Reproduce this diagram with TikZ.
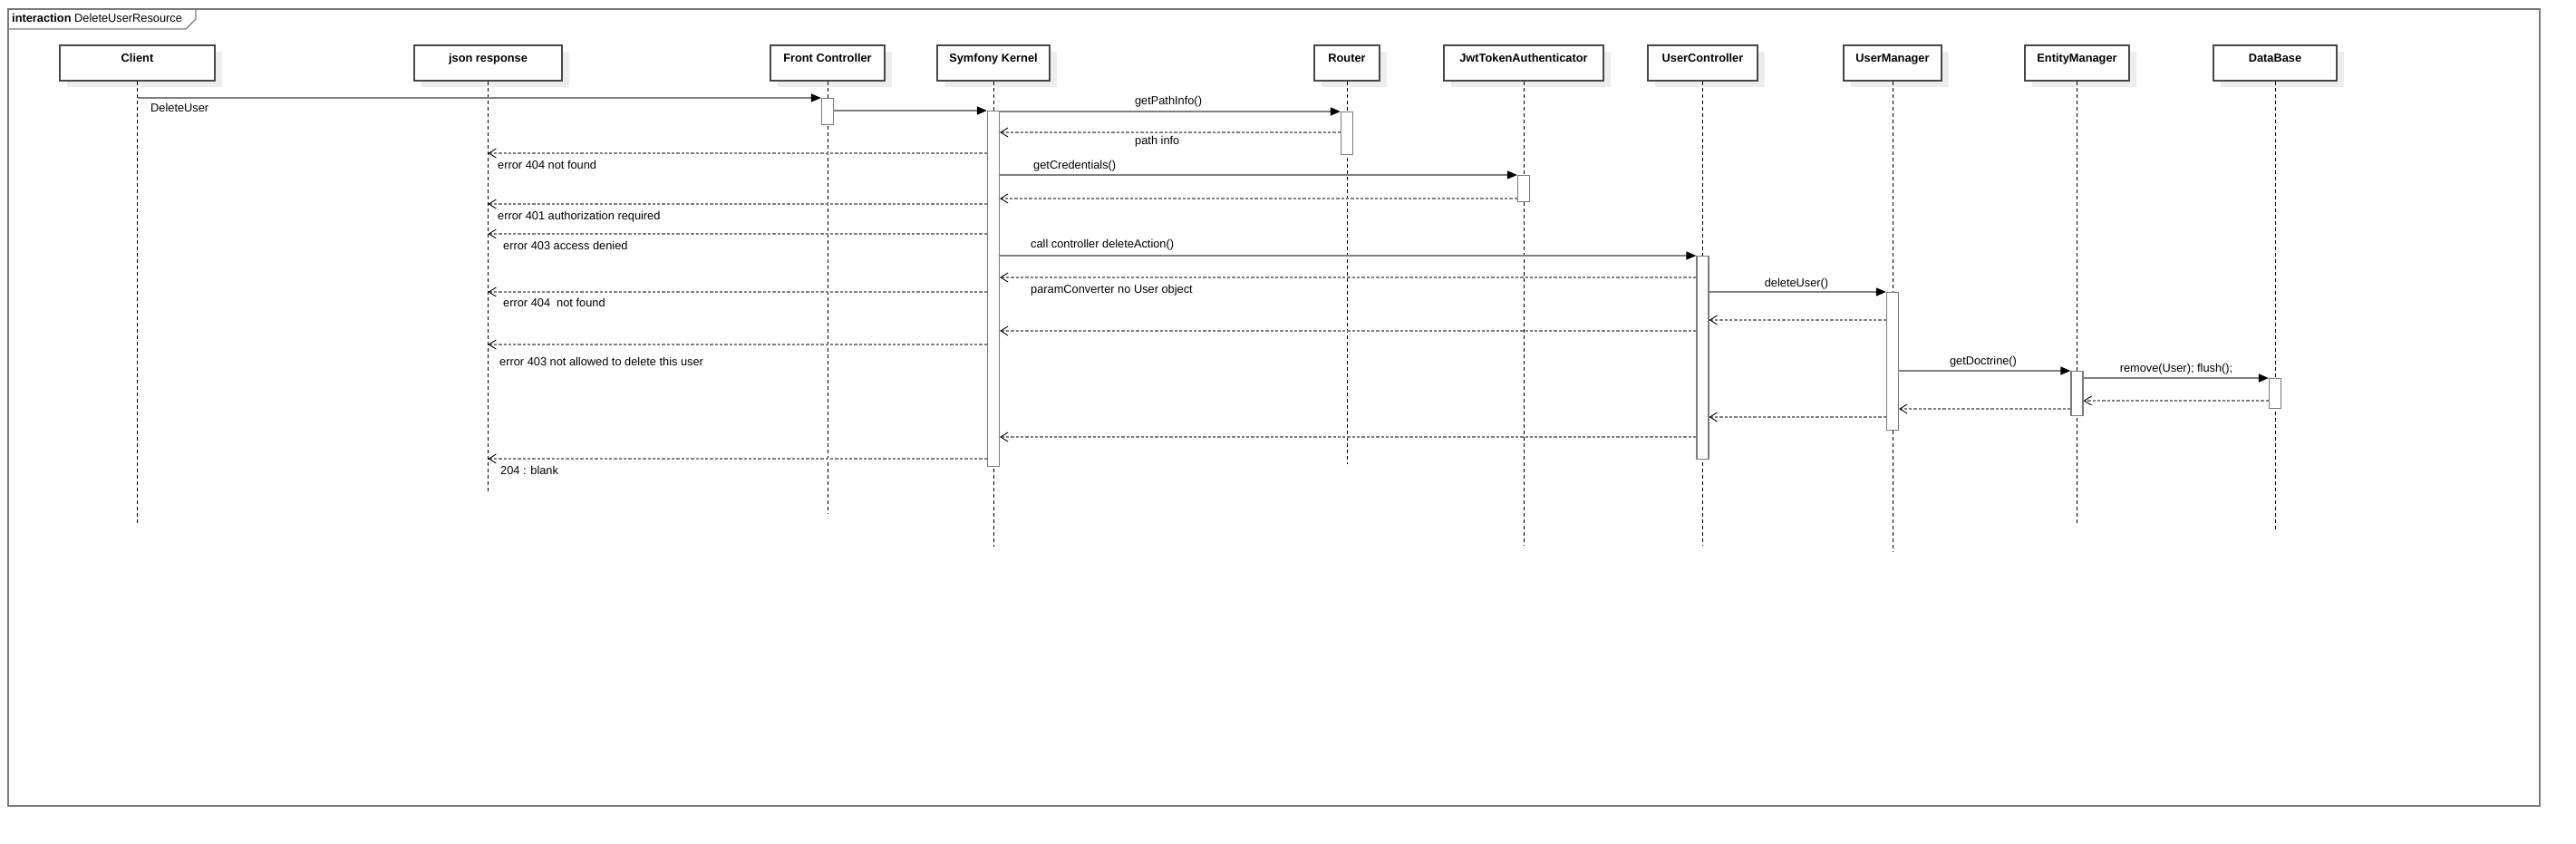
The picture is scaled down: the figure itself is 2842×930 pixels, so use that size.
\documentclass[tikz,border=0pt]{standalone}
\usepackage{fontspec}
\setmainfont{Liberation Sans}
\usetikzlibrary{arrows.meta,shadows}
\begin{document}
\begin{tikzpicture}[x=1pt,y=-1pt,
  font=\fontsize{12.8}{15}\selectfont,
  frame/.style={draw=black!52, line width=1.4pt},
  head/.style={draw=black!72, line width=1.2pt, fill=white, inner sep=0pt,
    text height=18pt, text depth=21pt, minimum height=39pt,
    font=\fontsize{12.8}{15}\selectfont\bfseries,
    general shadow={fill=black!7, shadow xshift=8pt, shadow yshift=-7pt}},
  life/.style={draw=black, line width=0.8pt, dash pattern=on 4pt off 3pt},
  bar/.style={draw=black!52, line width=1.3pt, fill=white, inner sep=0pt,
    minimum width=13pt, anchor=north},
  call/.style={draw=black!50, line width=1.6pt,
    -{Triangle[length=11pt,width=9pt,color=black,fill=black]}},
  ret/.style={draw=black!50, line width=1.4pt, dash pattern=on 3.3pt off 2pt,
    -{Straight Barb[length=8pt,width=10pt,color=black,line width=0.9pt]}},
  lbl/.style={inner sep=0pt, text height=9.2pt, text depth=2.7pt},
  lw/.style={lbl, anchor=west},
  lc/.style={lbl, anchor=center}]
\useasboundingbox (0,0) rectangle (2842,930);

% frame
\draw[frame] (9,10) rectangle (2802,889);
\draw[frame] (9,32) -- (205,32) -- (216,21) -- (216,10);
\node[lw] (title) at (13,21) {\textbf{interaction} DeleteUserResource};

% heads
\node[head, minimum width=171pt] (client) at (151.5,69.5) {Client};
\node[head, minimum width=163pt] (json) at (538.5,69.5) {json response};
\node[head, minimum width=126pt] (fc) at (913,69.5) {Front Controller};
\node[head, minimum width=124pt] (sk) at (1096,69.5) {Symfony Kernel};
\node[head, minimum width=72pt] (rt) at (1486,69.5) {Router};
\node[head, minimum width=176pt] (jw) at (1681,69.5) {JwtTokenAuthenticator};
\node[head, minimum width=121pt] (uc) at (1878.5,69.5) {UserController};
\node[head, minimum width=108pt] (um) at (2088,69.5) {UserManager};
\node[head, minimum width=115pt] (em) at (2291.5,69.5) {EntityManager};
\node[head, minimum width=136pt] (db) at (2510,69.5) {DataBase};

% lifelines
\draw[life] (client.south) -- (client.south |- 0,578);
\draw[life] (json.south) -- (json.south |- 0,543);
\draw[life] (fc.south) -- (fc.south |- 0,567);
\draw[life] (sk.south) -- (sk.south |- 0,603);
\draw[life] (rt.south) -- (rt.south |- 0,512);
\draw[life] (jw.south) -- (jw.south |- 0,602);
\draw[life] (uc.south) -- (uc.south |- 0,602);
\draw[life] (um.south) -- (um.south |- 0,608);
\draw[life] (em.south) -- (em.south |- 0,577);
\draw[life] (db.south) -- (db.south |- 0,585);

% activation bars
\node[bar, minimum height=29pt] (fcbar) at (913,108) {};
\node[bar, minimum height=392pt] (skbar) at (1096,122) {};
\node[bar, minimum height=47pt] (rtbar) at (1486,123) {};
\node[bar, minimum height=29pt] (jwbar) at (1681,193) {};
\node[bar, minimum height=224pt] (ucbar) at (1878.5,282) {};
\node[bar, minimum height=152pt] (umbar) at (2088,322) {};
\node[bar, minimum height=49pt] (embar) at (2291.5,409) {};
\node[bar, minimum height=33pt] (dbbar) at (2510,417) {};

% messages
\draw[call] (client.south |- 0,108) -- (fcbar.west |- 0,108);
\node[lw] (l1) at (166,120) {DeleteUser};
\draw[call] (fcbar.east |- 0,122) -- (skbar.west |- 0,122);
\draw[call] (skbar.east |- 0,123) -- (rtbar.west |- 0,123);
\node[lc] (l2) at (1289,112) {getPathInfo()};
\draw[ret] (rtbar.west |- 0,146) -- (skbar.east |- 0,146);
\node[lw] (l3) at (1252,156) {path info};
\draw[ret] (skbar.west |- 0,169) -- (json.south |- 0,169);
\node[lw] (l4) at (549,183) {error 404 not found};
\draw[call] (skbar.east |- 0,193) -- (jwbar.west |- 0,193);
\node[lw] (l5) at (1140,183) {getCredentials()};
\draw[ret] (jwbar.west |- 0,219) -- (skbar.east |- 0,219);
\draw[ret] (skbar.west |- 0,225) -- (json.south |- 0,225);
\node[lw] (l6) at (549,239) {error 401 authorization required};
\draw[ret] (skbar.west |- 0,258) -- (json.south |- 0,258);
\node[lw] (l7) at (555,272) {error 403 access denied};
\draw[call] (skbar.east |- 0,282) -- (ucbar.west |- 0,282);
\node[lw] (l8) at (1137,270) {call controller deleteAction()};
\draw[ret] (ucbar.west |- 0,306) -- (skbar.east |- 0,306);
\node[lw] (l9) at (1137,320) {paramConverter no User object};
\draw[ret] (skbar.west |- 0,322) -- (json.south |- 0,322);
\node[lw] (l10) at (555,335) {error 404\ \ not found};
\draw[call] (ucbar.east |- 0,322) -- (umbar.west |- 0,322);
\node[lc] (l11) at (1982,313) {deleteUser()};
\draw[ret] (umbar.west |- 0,353) -- (ucbar.east |- 0,353);
\draw[ret] (ucbar.west |- 0,365) -- (skbar.east |- 0,365);
\draw[ret] (skbar.west |- 0,380) -- (json.south |- 0,380);
\node[lw] (l12) at (551,400) {error 403 not allowed to delete this user};
\draw[call] (umbar.east |- 0,409) -- (embar.west |- 0,409);
\node[lc] (l13) at (2188,399) {getDoctrine()};
\draw[call] (embar.east |- 0,417) -- (dbbar.west |- 0,417);
\node[lc] (l14) at (2401,407) {remove(User); flush();};
\draw[ret] (dbbar.west |- 0,442) -- (embar.east |- 0,442);
\draw[ret] (embar.west |- 0,451) -- (umbar.east |- 0,451);
\draw[ret] (umbar.west |- 0,460) -- (ucbar.east |- 0,460);
\draw[ret] (ucbar.west |- 0,482) -- (skbar.east |- 0,482);
\draw[ret] (skbar.west |- 0,506) -- (json.south |- 0,506);
\node[lw] (l15) at (552,520) {204 : blank};
\end{tikzpicture}
\end{document}
